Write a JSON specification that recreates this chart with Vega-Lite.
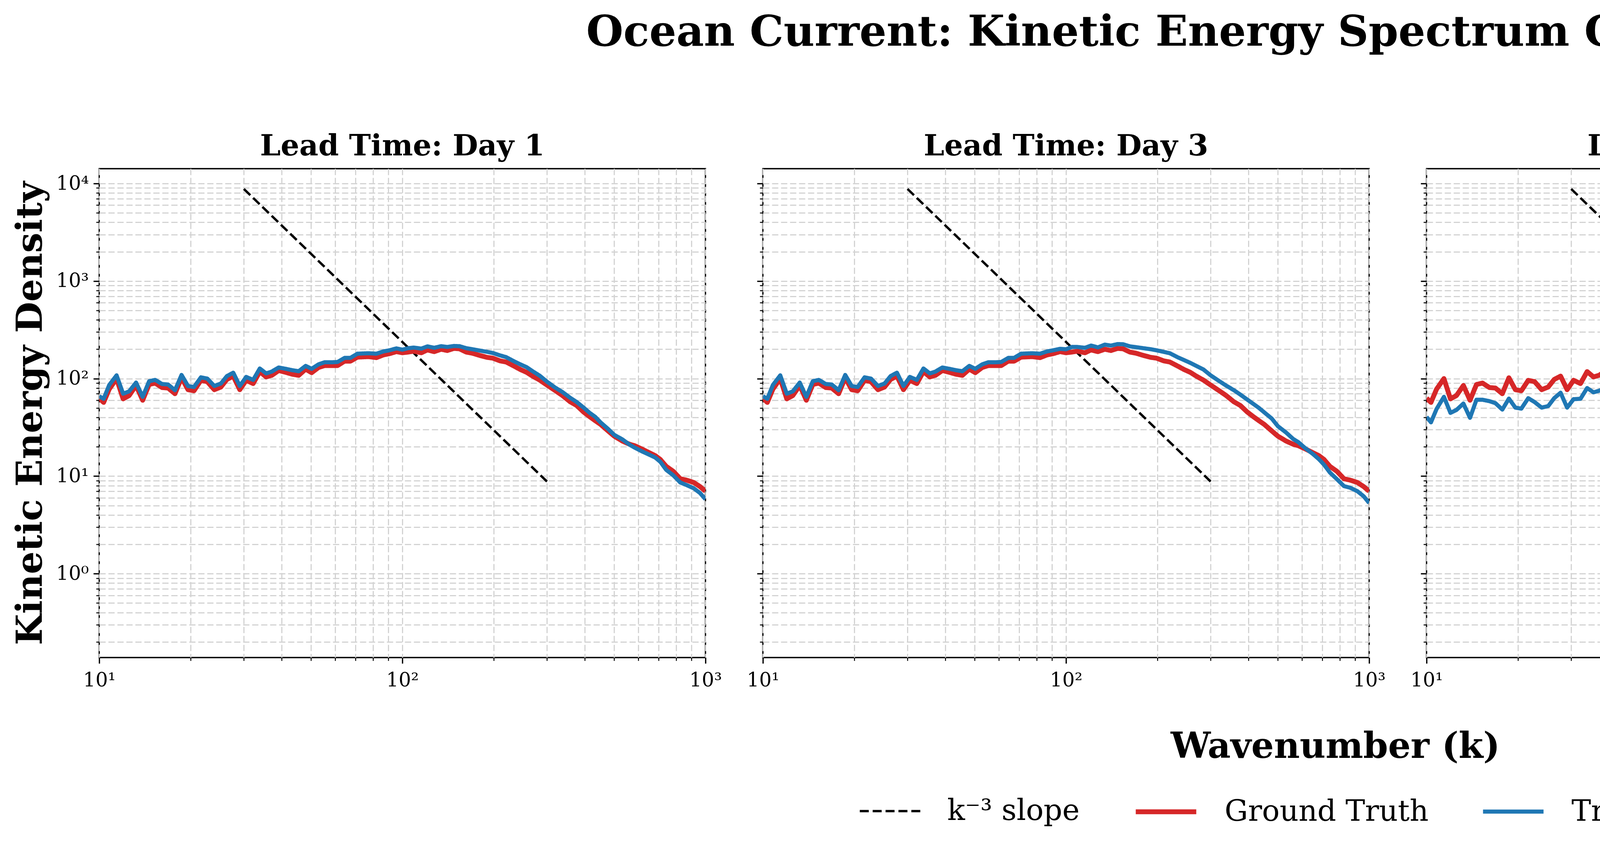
{
  "$schema": "https://vega.github.io/schema/vega-lite/v6.json",
  "background": "white",
  "padding": {"left": 30, "top": 30, "right": 30, "bottom": 40},
  "title": {"text": "Ocean Current: Kinetic Energy Spectrum Comparison (0.125°)", "fontSize": 109, "offset": 196, "anchor": "middle", "dx": -75},
  "datasets": {
    "slope": [
      {"k": 30, "E": 8800, "series": "s"},
      {"k": 300, "E": 8.8, "series": "s"}
    ],
    "spec": [
      {"k": 10, "g": 63, "d1": 66, "d3": 66, "d7": 40.5, "d10": 24.6},
      {"k": 10.34, "g": 57, "d1": 62, "d3": 62, "d7": 35.6, "d10": 20.7},
      {"k": 10.79, "g": 78, "d1": 86, "d3": 86, "d7": 48.8, "d10": 29.4},
      {"k": 11.41, "g": 100, "d1": 108, "d3": 108, "d7": 65, "d10": 41.7},
      {"k": 11.99, "g": 62, "d1": 70, "d3": 70, "d7": 44.5, "d10": 27.8},
      {"k": 12.55, "g": 67, "d1": 74, "d3": 74, "d7": 47.7, "d10": 30.2},
      {"k": 13.23, "g": 85, "d1": 91, "d3": 91, "d7": 55.5, "d10": 35.2},
      {"k": 13.91, "g": 60, "d1": 65, "d3": 65, "d7": 39.6, "d10": 25},
      {"k": 14.61, "g": 87, "d1": 94, "d3": 94, "d7": 60.7, "d10": 39},
      {"k": 15.29, "g": 90, "d1": 97, "d3": 97, "d7": 60.7, "d10": 39},
      {"k": 16.12, "g": 81, "d1": 88, "d3": 88, "d7": 58.7, "d10": 38.2},
      {"k": 16.87, "g": 80, "d1": 87, "d3": 87, "d7": 56, "d10": 36.4},
      {"k": 17.78, "g": 70, "d1": 76, "d3": 76, "d7": 48.1, "d10": 31.4},
      {"k": 18.69, "g": 102, "d1": 109, "d3": 109, "d7": 62.4, "d10": 38.8},
      {"k": 19.63, "g": 77, "d1": 84, "d3": 84, "d7": 50.4, "d10": 30.9},
      {"k": 20.54, "g": 75, "d1": 82, "d3": 82, "d7": 49.2, "d10": 30.6},
      {"k": 21.65, "g": 96, "d1": 103, "d3": 103, "d7": 63, "d10": 41.7},
      {"k": 22.73, "g": 93, "d1": 100, "d3": 100, "d7": 57.4, "d10": 37},
      {"k": 23.97, "g": 77, "d1": 84, "d3": 84, "d7": 50.4, "d10": 30.9},
      {"k": 25.2, "g": 82, "d1": 89, "d3": 89, "d7": 52.3, "d10": 32.4},
      {"k": 26.37, "g": 98, "d1": 106, "d3": 106, "d7": 63, "d10": 39.4},
      {"k": 27.68, "g": 106, "d1": 115, "d3": 115, "d7": 71.6, "d10": 49.1},
      {"k": 29.09, "g": 77, "d1": 84, "d3": 84, "d7": 50.4, "d10": 33},
      {"k": 30.54, "g": 96, "d1": 104, "d3": 104, "d7": 61.5, "d10": 42.1},
      {"k": 32.2, "g": 89, "d1": 97, "d3": 97, "d7": 62.1, "d10": 42.8},
      {"k": 33.86, "g": 118, "d1": 127, "d3": 127, "d7": 80, "d10": 54.2},
      {"k": 35.54, "g": 104, "d1": 113, "d3": 113, "d7": 72.3, "d10": 49.5},
      {"k": 37.08, "g": 108, "d1": 118, "d3": 118, "d7": 75, "d10": 50.3},
      {"k": 39.09, "g": 121, "d1": 130, "d3": 130, "d7": 80.8, "d10": 53.7},
      {"k": 41.22, "g": 116, "d1": 126, "d3": 126, "d7": 80.8, "d10": 55.1},
      {"k": 43.3, "g": 111, "d1": 122, "d3": 122, "d7": 79.3, "d10": 54.6},
      {"k": 45.5, "g": 108, "d1": 119, "d3": 119, "d7": 75, "d10": 49.8},
      {"k": 47.97, "g": 125, "d1": 135, "d3": 135, "d7": 83.1, "d10": 55.5},
      {"k": 50.2, "g": 115, "d1": 126, "d3": 126, "d7": 80, "d10": 54.6},
      {"k": 52.9, "g": 130, "d1": 140, "d3": 140, "d7": 88.6, "d10": 58.2},
      {"k": 55.4, "g": 136, "d1": 147, "d3": 147, "d7": 93.3, "d10": 61.5},
      {"k": 58.4, "g": 136, "d1": 147, "d3": 147, "d7": 93, "d10": 60.1},
      {"k": 61.1, "g": 136, "d1": 148, "d3": 148, "d7": 92.5, "d10": 61.1},
      {"k": 64.5, "g": 151, "d1": 163, "d3": 163, "d7": 101, "d10": 64.2},
      {"k": 67.4, "g": 151, "d1": 163, "d3": 163, "d7": 100, "d10": 61.7},
      {"k": 71.1, "g": 166, "d1": 180, "d3": 180, "d7": 108, "d10": 68.9},
      {"k": 74.2, "g": 167, "d1": 181, "d3": 181, "d7": 110, "d10": 70.5},
      {"k": 77.3, "g": 168, "d1": 182, "d3": 182, "d7": 111, "d10": 71.4},
      {"k": 82.1, "g": 164, "d1": 180, "d3": 180, "d7": 112, "d10": 71.8},
      {"k": 86.6, "g": 175, "d1": 190, "d3": 190, "d7": 118, "d10": 73.5},
      {"k": 90.6, "g": 180, "d1": 195, "d3": 195, "d7": 119, "d10": 73.7},
      {"k": 95.6, "g": 189, "d1": 204, "d3": 202, "d7": 122, "d10": 75.5},
      {"k": 100, "g": 184, "d1": 198, "d3": 200, "d7": 127, "d10": 74.5},
      {"k": 104.5, "g": 187, "d1": 205, "d3": 211, "d7": 129, "d10": 75},
      {"k": 109.1, "g": 191, "d1": 208, "d3": 211, "d7": 127, "d10": 75.6},
      {"k": 115.5, "g": 184, "d1": 203, "d3": 207, "d7": 126, "d10": 73.7},
      {"k": 121, "g": 197, "d1": 214, "d3": 218, "d7": 132, "d10": 78.8},
      {"k": 127.4, "g": 189, "d1": 207, "d3": 209, "d7": 129, "d10": 76.7},
      {"k": 134.3, "g": 200, "d1": 215, "d3": 223, "d7": 134, "d10": 80.4},
      {"k": 140.6, "g": 194, "d1": 211, "d3": 218, "d7": 131, "d10": 77.5},
      {"k": 148, "g": 204, "d1": 216, "d3": 226, "d7": 135, "d10": 80.4},
      {"k": 154.3, "g": 202, "d1": 215, "d3": 225, "d7": 134, "d10": 79.6},
      {"k": 162.5, "g": 187, "d1": 205, "d3": 214, "d7": 131, "d10": 76.7},
      {"k": 170.3, "g": 182, "d1": 200, "d3": 210, "d7": 127, "d10": 75.6},
      {"k": 179.8, "g": 173, "d1": 194, "d3": 205, "d7": 123, "d10": 72.6},
      {"k": 190.5, "g": 165, "d1": 188, "d3": 200, "d7": 120, "d10": 71.9},
      {"k": 198.9, "g": 162, "d1": 183, "d3": 195, "d7": 117, "d10": 70.1},
      {"k": 210, "g": 152, "d1": 173, "d3": 188, "d7": 112, "d10": 66.6},
      {"k": 220, "g": 148, "d1": 166, "d3": 182, "d7": 106, "d10": 63.2},
      {"k": 234, "g": 134, "d1": 150, "d3": 165, "d7": 97, "d10": 59},
      {"k": 245, "g": 124, "d1": 140, "d3": 155, "d7": 90, "d10": 52.9},
      {"k": 257, "g": 116, "d1": 131, "d3": 145, "d7": 82, "d10": 48.5},
      {"k": 269, "g": 106, "d1": 119, "d3": 135, "d7": 76, "d10": 44},
      {"k": 284, "g": 96.5, "d1": 107, "d3": 124, "d7": 68, "d10": 38.1},
      {"k": 300, "g": 85.9, "d1": 93, "d3": 108, "d7": 58.5, "d10": 33},
      {"k": 319, "g": 75.6, "d1": 81, "d3": 95, "d7": 52, "d10": 27.8},
      {"k": 337, "g": 67.3, "d1": 73, "d3": 85, "d7": 46, "d10": 23.9},
      {"k": 358, "g": 57.8, "d1": 63.5, "d3": 76, "d7": 39.5, "d10": 20},
      {"k": 376, "g": 53, "d1": 57.5, "d3": 68.5, "d7": 35, "d10": 17.2},
      {"k": 396, "g": 45.5, "d1": 50.5, "d3": 61, "d7": 30, "d10": 14.6},
      {"k": 415, "g": 40.7, "d1": 44.5, "d3": 55, "d7": 26.5, "d10": 12.8},
      {"k": 433, "g": 37, "d1": 40.5, "d3": 50, "d7": 23, "d10": 11.3},
      {"k": 451, "g": 33.9, "d1": 35.5, "d3": 45, "d7": 20.5, "d10": 9.9},
      {"k": 477, "g": 29.1, "d1": 30.5, "d3": 39, "d7": 17, "d10": 8.28},
      {"k": 500, "g": 25.7, "d1": 26.5, "d3": 32.5, "d7": 14.3, "d10": 7},
      {"k": 532, "g": 22.9, "d1": 23.8, "d3": 28, "d7": 12.4, "d10": 6.1},
      {"k": 562, "g": 21.2, "d1": 21, "d3": 24, "d7": 10.9, "d10": 5.38},
      {"k": 584, "g": 20.5, "d1": 19.6, "d3": 22.3, "d7": 10, "d10": 4.95},
      {"k": 616, "g": 19, "d1": 18, "d3": 19.3, "d7": 8.9, "d10": 4.45},
      {"k": 652, "g": 17.4, "d1": 16.6, "d3": 16.9, "d7": 7.9, "d10": 4.21},
      {"k": 683, "g": 16.2, "d1": 15.5, "d3": 14.9, "d7": 7.1, "d10": 3.87},
      {"k": 710, "g": 14.8, "d1": 14, "d3": 13.1, "d7": 6.5, "d10": 3.49},
      {"k": 742, "g": 12.6, "d1": 11.6, "d3": 10.9, "d7": 5.6, "d10": 3.1},
      {"k": 783, "g": 11.2, "d1": 10.2, "d3": 9.3, "d7": 4.95, "d10": 2.78},
      {"k": 826, "g": 9.4, "d1": 8.6, "d3": 7.9, "d7": 4.3, "d10": 2.45},
      {"k": 866, "g": 9.1, "d1": 8.1, "d3": 7.6, "d7": 3.85, "d10": 2.33},
      {"k": 915, "g": 8.6, "d1": 7.5, "d3": 7, "d7": 3.6, "d10": 2.18},
      {"k": 960, "g": 7.8, "d1": 6.7, "d3": 6.2, "d7": 3.3, "d10": 1.95},
      {"k": 1000, "g": 7, "d1": 5.8, "d3": 5.3, "d7": 2.89, "d10": 1.76}
    ]
  },
  "vconcat": [
    {
      "title": {"text": "Wavenumber (k)", "orient": "bottom", "fontSize": 91, "offset": 100, "anchor": "middle", "dx": -70},
      "spacing": 147,
      "bounds": "flush",
      "hconcat": [
        {
          "width": 1552, "height": 1252,
          "title": {"text": "Lead Time: Day 1", "fontSize": 75, "offset": 18},
          "encoding": {
            "x": {"field": "k", "type": "quantitative", "scale": {"type": "log", "domain": [10, 1000], "nice": false},
              "axis": {"title": null, "values": [10, 20, 30, 40, 50, 60, 70, 80, 90, 100, 200, 300, 400, 500, 600, 700, 800, 900, 1000],
                "labelExpr": "datum.value == 10 ? '10¹' : datum.value == 100 ? '10²' : datum.value == 1000 ? '10³' : ''",
                "tickSize": {"condition": {"test": "datum.value == 10 || datum.value == 100 || datum.value == 1000", "value": 15}, "value": 8},
                "tickWidth": {"condition": {"test": "datum.value == 10 || datum.value == 100 || datum.value == 1000", "value": 3.3}, "value": 2.5}}},
            "y": {"field": "E", "type": "quantitative", "scale": {"type": "log", "domain": [0.138, 14200], "nice": false},
              "axis": {"title": "Kinetic Energy Density", "labelPadding": 12, "values": [0.2, 0.3, 0.4, 0.5, 0.6, 0.7, 0.8, 0.9, 1, 2, 3, 4, 5, 6, 7, 8, 9, 10, 20, 30, 40, 50, 60, 70, 80, 90, 100, 200, 300, 400, 500, 600, 700, 800, 900, 1000, 2000, 3000, 4000, 5000, 6000, 7000, 8000, 9000, 10000],
                "labelExpr": "datum.value == 1 ? '10⁰' : datum.value == 10 ? '10¹' : datum.value == 100 ? '10²' : datum.value == 1000 ? '10³' : datum.value == 10000 ? '10⁴' : ''",
                "tickSize": {"condition": {"test": "indexof([1, 10, 100, 1000, 10000], datum.value) >= 0", "value": 15}, "value": 8},
                "tickWidth": {"condition": {"test": "indexof([1, 10, 100, 1000, 10000], datum.value) >= 0", "value": 3.3}, "value": 2.5}}},
            "color": {"field": "series", "type": "nominal", "scale": {"domain": ["s", "g", "d1", "d3", "d7", "d10"], "range": ["#000000", "#d62728", "#1f77b4", "#1f77b4", "#1f77b4", "#1f77b4"]},
              "legend": {"title": null, "values": ["s", "g", "d1"], "labelExpr": "datum.label == 's' ? 'k⁻³ slope' : datum.label == 'g' ? 'Ground Truth' : 'TritonCast Forecast'"}},
            "strokeDash": {"field": "series", "type": "nominal", "scale": {"domain": ["s", "g", "d1", "d3", "d7", "d10"], "range": [[23, 10], [1, 0], [1, 0], [1, 0], [1, 0], [1, 0]]},
              "legend": {"title": null, "values": ["s", "g", "d1"], "labelExpr": "datum.label == 's' ? 'k⁻³ slope' : datum.label == 'g' ? 'Ground Truth' : 'TritonCast Forecast'"}},
            "strokeWidth": {"field": "series", "type": "nominal", "scale": {"type": "ordinal", "domain": ["s", "g", "d1", "d3", "d7", "d10"], "range": [6, 12.5, 10.5, 10.5, 10.5, 10.5]},
              "legend": {"title": null, "values": ["s", "g", "d1"], "labelExpr": "datum.label == 's' ? 'k⁻³ slope' : datum.label == 'g' ? 'Ground Truth' : 'TritonCast Forecast'"}}
          },
          "layer": [
            {"data": {"name": "slope"}, "mark": {"type": "line", "clip": true, "strokeCap": "butt"}},
            {"data": {"name": "spec"}, "transform": [{"fold": ["g", "d1"], "as": ["series", "E"]}], "mark": {"type": "line", "clip": true, "strokeJoin": "round"}}
          ]
        },
        {
          "width": 1552, "height": 1252,
          "title": {"text": "Lead Time: Day 3", "fontSize": 75, "offset": 18},
          "encoding": {
            "x": {"field": "k", "type": "quantitative", "scale": {"type": "log", "domain": [10, 1000], "nice": false},
              "axis": {"title": null, "values": [10, 20, 30, 40, 50, 60, 70, 80, 90, 100, 200, 300, 400, 500, 600, 700, 800, 900, 1000],
                "labelExpr": "datum.value == 10 ? '10¹' : datum.value == 100 ? '10²' : datum.value == 1000 ? '10³' : ''",
                "tickSize": {"condition": {"test": "datum.value == 10 || datum.value == 100 || datum.value == 1000", "value": 15}, "value": 8},
                "tickWidth": {"condition": {"test": "datum.value == 10 || datum.value == 100 || datum.value == 1000", "value": 3.3}, "value": 2.5}}},
            "y": {"field": "E", "type": "quantitative", "scale": {"type": "log", "domain": [0.138, 14200], "nice": false},
              "axis": {"title": null, "labels": false, "values": [0.2, 0.3, 0.4, 0.5, 0.6, 0.7, 0.8, 0.9, 1, 2, 3, 4, 5, 6, 7, 8, 9, 10, 20, 30, 40, 50, 60, 70, 80, 90, 100, 200, 300, 400, 500, 600, 700, 800, 900, 1000, 2000, 3000, 4000, 5000, 6000, 7000, 8000, 9000, 10000],
                "tickSize": {"condition": {"test": "indexof([1, 10, 100, 1000, 10000], datum.value) >= 0", "value": 15}, "value": 8},
                "tickWidth": {"condition": {"test": "indexof([1, 10, 100, 1000, 10000], datum.value) >= 0", "value": 3.3}, "value": 2.5}}},
            "color": {"field": "series", "type": "nominal", "scale": {"domain": ["s", "g", "d1", "d3", "d7", "d10"], "range": ["#000000", "#d62728", "#1f77b4", "#1f77b4", "#1f77b4", "#1f77b4"]},
              "legend": {"title": null, "values": ["s", "g", "d1"], "labelExpr": "datum.label == 's' ? 'k⁻³ slope' : datum.label == 'g' ? 'Ground Truth' : 'TritonCast Forecast'"}},
            "strokeDash": {"field": "series", "type": "nominal", "scale": {"domain": ["s", "g", "d1", "d3", "d7", "d10"], "range": [[23, 10], [1, 0], [1, 0], [1, 0], [1, 0], [1, 0]]},
              "legend": {"title": null, "values": ["s", "g", "d1"], "labelExpr": "datum.label == 's' ? 'k⁻³ slope' : datum.label == 'g' ? 'Ground Truth' : 'TritonCast Forecast'"}},
            "strokeWidth": {"field": "series", "type": "nominal", "scale": {"type": "ordinal", "domain": ["s", "g", "d1", "d3", "d7", "d10"], "range": [6, 12.5, 10.5, 10.5, 10.5, 10.5]},
              "legend": {"title": null, "values": ["s", "g", "d1"], "labelExpr": "datum.label == 's' ? 'k⁻³ slope' : datum.label == 'g' ? 'Ground Truth' : 'TritonCast Forecast'"}}
          },
          "layer": [
            {"data": {"name": "slope"}, "mark": {"type": "line", "clip": true, "strokeCap": "butt"}},
            {"data": {"name": "spec"}, "transform": [{"fold": ["g", "d3"], "as": ["series", "E"]}], "mark": {"type": "line", "clip": true, "strokeJoin": "round"}}
          ]
        },
        {
          "width": 1552, "height": 1252,
          "title": {"text": "Lead Time: Day 7", "fontSize": 75, "offset": 18},
          "encoding": {
            "x": {"field": "k", "type": "quantitative", "scale": {"type": "log", "domain": [10, 1000], "nice": false},
              "axis": {"title": null, "values": [10, 20, 30, 40, 50, 60, 70, 80, 90, 100, 200, 300, 400, 500, 600, 700, 800, 900, 1000],
                "labelExpr": "datum.value == 10 ? '10¹' : datum.value == 100 ? '10²' : datum.value == 1000 ? '10³' : ''",
                "tickSize": {"condition": {"test": "datum.value == 10 || datum.value == 100 || datum.value == 1000", "value": 15}, "value": 8},
                "tickWidth": {"condition": {"test": "datum.value == 10 || datum.value == 100 || datum.value == 1000", "value": 3.3}, "value": 2.5}}},
            "y": {"field": "E", "type": "quantitative", "scale": {"type": "log", "domain": [0.138, 14200], "nice": false},
              "axis": {"title": null, "labels": false, "values": [0.2, 0.3, 0.4, 0.5, 0.6, 0.7, 0.8, 0.9, 1, 2, 3, 4, 5, 6, 7, 8, 9, 10, 20, 30, 40, 50, 60, 70, 80, 90, 100, 200, 300, 400, 500, 600, 700, 800, 900, 1000, 2000, 3000, 4000, 5000, 6000, 7000, 8000, 9000, 10000],
                "tickSize": {"condition": {"test": "indexof([1, 10, 100, 1000, 10000], datum.value) >= 0", "value": 15}, "value": 8},
                "tickWidth": {"condition": {"test": "indexof([1, 10, 100, 1000, 10000], datum.value) >= 0", "value": 3.3}, "value": 2.5}}},
            "color": {"field": "series", "type": "nominal", "scale": {"domain": ["s", "g", "d1", "d3", "d7", "d10"], "range": ["#000000", "#d62728", "#1f77b4", "#1f77b4", "#1f77b4", "#1f77b4"]},
              "legend": {"title": null, "values": ["s", "g", "d1"], "labelExpr": "datum.label == 's' ? 'k⁻³ slope' : datum.label == 'g' ? 'Ground Truth' : 'TritonCast Forecast'"}},
            "strokeDash": {"field": "series", "type": "nominal", "scale": {"domain": ["s", "g", "d1", "d3", "d7", "d10"], "range": [[23, 10], [1, 0], [1, 0], [1, 0], [1, 0], [1, 0]]},
              "legend": {"title": null, "values": ["s", "g", "d1"], "labelExpr": "datum.label == 's' ? 'k⁻³ slope' : datum.label == 'g' ? 'Ground Truth' : 'TritonCast Forecast'"}},
            "strokeWidth": {"field": "series", "type": "nominal", "scale": {"type": "ordinal", "domain": ["s", "g", "d1", "d3", "d7", "d10"], "range": [6, 12.5, 10.5, 10.5, 10.5, 10.5]},
              "legend": {"title": null, "values": ["s", "g", "d1"], "labelExpr": "datum.label == 's' ? 'k⁻³ slope' : datum.label == 'g' ? 'Ground Truth' : 'TritonCast Forecast'"}}
          },
          "layer": [
            {"data": {"name": "slope"}, "mark": {"type": "line", "clip": true, "strokeCap": "butt"}},
            {"data": {"name": "spec"}, "transform": [{"fold": ["g", "d7"], "as": ["series", "E"]}], "mark": {"type": "line", "clip": true, "strokeJoin": "round"}}
          ]
        },
        {
          "width": 1552, "height": 1252,
          "title": {"text": "Lead Time: Day 10", "fontSize": 75, "offset": 18},
          "encoding": {
            "x": {"field": "k", "type": "quantitative", "scale": {"type": "log", "domain": [10, 1000], "nice": false},
              "axis": {"title": null, "values": [10, 20, 30, 40, 50, 60, 70, 80, 90, 100, 200, 300, 400, 500, 600, 700, 800, 900, 1000],
                "labelExpr": "datum.value == 10 ? '10¹' : datum.value == 100 ? '10²' : datum.value == 1000 ? '10³' : ''",
                "tickSize": {"condition": {"test": "datum.value == 10 || datum.value == 100 || datum.value == 1000", "value": 15}, "value": 8},
                "tickWidth": {"condition": {"test": "datum.value == 10 || datum.value == 100 || datum.value == 1000", "value": 3.3}, "value": 2.5}}},
            "y": {"field": "E", "type": "quantitative", "scale": {"type": "log", "domain": [0.138, 14200], "nice": false},
              "axis": {"title": null, "labels": false, "values": [0.2, 0.3, 0.4, 0.5, 0.6, 0.7, 0.8, 0.9, 1, 2, 3, 4, 5, 6, 7, 8, 9, 10, 20, 30, 40, 50, 60, 70, 80, 90, 100, 200, 300, 400, 500, 600, 700, 800, 900, 1000, 2000, 3000, 4000, 5000, 6000, 7000, 8000, 9000, 10000],
                "tickSize": {"condition": {"test": "indexof([1, 10, 100, 1000, 10000], datum.value) >= 0", "value": 15}, "value": 8},
                "tickWidth": {"condition": {"test": "indexof([1, 10, 100, 1000, 10000], datum.value) >= 0", "value": 3.3}, "value": 2.5}}},
            "color": {"field": "series", "type": "nominal", "scale": {"domain": ["s", "g", "d1", "d3", "d7", "d10"], "range": ["#000000", "#d62728", "#1f77b4", "#1f77b4", "#1f77b4", "#1f77b4"]},
              "legend": {"title": null, "values": ["s", "g", "d1"], "labelExpr": "datum.label == 's' ? 'k⁻³ slope' : datum.label == 'g' ? 'Ground Truth' : 'TritonCast Forecast'"}},
            "strokeDash": {"field": "series", "type": "nominal", "scale": {"domain": ["s", "g", "d1", "d3", "d7", "d10"], "range": [[23, 10], [1, 0], [1, 0], [1, 0], [1, 0], [1, 0]]},
              "legend": {"title": null, "values": ["s", "g", "d1"], "labelExpr": "datum.label == 's' ? 'k⁻³ slope' : datum.label == 'g' ? 'Ground Truth' : 'TritonCast Forecast'"}},
            "strokeWidth": {"field": "series", "type": "nominal", "scale": {"type": "ordinal", "domain": ["s", "g", "d1", "d3", "d7", "d10"], "range": [6, 12.5, 10.5, 10.5, 10.5, 10.5]},
              "legend": {"title": null, "values": ["s", "g", "d1"], "labelExpr": "datum.label == 's' ? 'k⁻³ slope' : datum.label == 'g' ? 'Ground Truth' : 'TritonCast Forecast'"}}
          },
          "layer": [
            {"data": {"name": "slope"}, "mark": {"type": "line", "clip": true, "strokeCap": "butt"}},
            {"data": {"name": "spec"}, "transform": [{"fold": ["g", "d10"], "as": ["series", "E"]}], "mark": {"type": "line", "clip": true, "strokeJoin": "round"}}
          ]
        }
      ]
    }
  ],
  "config": {
    "font": "DejaVu Serif",
    "view": {"stroke": "#000000", "strokeWidth": 3.3},
    "title": {"font": "DejaVu Serif", "fontWeight": "bold", "color": "#000000"},
    "axis": {"grid": true, "gridColor": "#d3d3d3", "gridDash": [16, 7], "gridWidth": 3, "domain": false, "tickColor": "#000000", "labelColor": "#000000", "labelFont": "DejaVu Serif", "labelFontSize": 50, "labelPadding": 18, "labelFlush": false, "labelOverlap": false, "titleFont": "DejaVu Serif", "titleFontWeight": "bold", "titleFontSize": 92, "titleColor": "#000000", "titlePadding": 18},
    "legend": {"orient": "bottom", "direction": "horizontal", "labelFont": "DejaVu Serif", "labelFontSize": 75, "labelColor": "#000000", "labelLimit": 3000, "symbolType": "stroke", "symbolSize": 24000, "labelOffset": 66, "columnPadding": 118, "offset": 36, "padding": 0, "layout": {"bottom": {"anchor": "middle"}}}
  }
}
